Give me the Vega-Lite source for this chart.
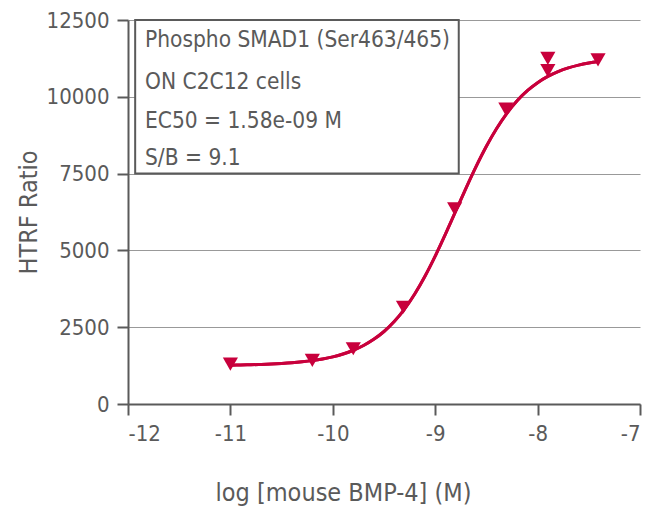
{
  "$schema": "https://vega.github.io/schema/vega-lite/v6.json",
  "width": 512,
  "height": 384,
  "autosize": "none",
  "padding": {"left": 128, "top": 20, "right": 19, "bottom": 104},
  "background": "white",
  "config": {
    "view": {"stroke": null},
    "font": "DejaVu Sans Condensed, Roboto, sans-serif",
    "axis": {
      "labelFont": "DejaVu Sans Condensed, Roboto, sans-serif",
      "titleFont": "DejaVu Sans Condensed, Roboto, sans-serif",
      "labelFontSize": 22,
      "titleFontSize": 25,
      "labelColor": "#5a5a5a",
      "titleColor": "#5a5a5a",
      "titleFontWeight": "normal",
      "domainColor": "#5a5a5a",
      "domainWidth": 2,
      "tickColor": "#5a5a5a",
      "tickWidth": 2,
      "tickSize": 11
    }
  },
  "datasets": {
    "box": [{"x1": -11.93, "x2": -8.77, "y1": 7500, "y2": 12500}],
    "curve": [
      {"x": -11.0, "y": 1264}, {"x": -10.9, "y": 1269}, {"x": -10.8, "y": 1277},
      {"x": -10.7, "y": 1287}, {"x": -10.6, "y": 1300}, {"x": -10.5, "y": 1318},
      {"x": -10.4, "y": 1341}, {"x": -10.3, "y": 1372}, {"x": -10.2, "y": 1412},
      {"x": -10.1, "y": 1465}, {"x": -10.0, "y": 1535}, {"x": -9.9, "y": 1628},
      {"x": -9.8, "y": 1750}, {"x": -9.7, "y": 1905}, {"x": -9.6, "y": 2105},
      {"x": -9.5, "y": 2360}, {"x": -9.4, "y": 2685}, {"x": -9.3, "y": 3090},
      {"x": -9.2, "y": 3581}, {"x": -9.1, "y": 4159}, {"x": -9.0, "y": 4814},
      {"x": -8.9, "y": 5529}, {"x": -8.8, "y": 6275}, {"x": -8.7, "y": 7022},
      {"x": -8.6, "y": 7736}, {"x": -8.5, "y": 8391}, {"x": -8.4, "y": 8969},
      {"x": -8.3, "y": 9462}, {"x": -8.2, "y": 9870}, {"x": -8.1, "y": 10199},
      {"x": -8.0, "y": 10460}, {"x": -7.9, "y": 10664}, {"x": -7.8, "y": 10820},
      {"x": -7.7, "y": 10940}, {"x": -7.6, "y": 11031}, {"x": -7.5, "y": 11099},
      {"x": -7.4, "y": 11150}
    ],
    "points": [
      {"x": -11.0, "y": 1300}, {"x": -10.2, "y": 1420}, {"x": -9.8, "y": 1800},
      {"x": -9.31, "y": 3150}, {"x": -8.81, "y": 6350}, {"x": -8.31, "y": 9600},
      {"x": -7.9, "y": 11250}, {"x": -7.9, "y": 10850}, {"x": -7.41, "y": 11200}
    ],
    "labels": [
      {"x": -11.834, "y": 11621, "t": "Phospho SMAD1 (Ser463/465)"},
      {"x": -11.834, "y": 10254, "t": "ON C2C12 cells"},
      {"x": -11.834, "y": 8984, "t": "EC50 = 1.58e-09 M"},
      {"x": -11.834, "y": 7780, "t": "S/B = 9.1"}
    ]
  },
  "layer": [
    {
      "data": {"name": "curve"},
      "mark": {"type": "line", "color": "#C8003C", "strokeWidth": 3, "interpolate": "monotone"},
      "encoding": {
        "x": {
          "field": "x", "type": "quantitative",
          "scale": {"domain": [-12, -7], "nice": false, "zero": false},
          "axis": {"values": [-12, -11, -10, -9, -8, -7], "labelExpr": "'' + datum.value", "grid": false,
                   "title": "log [mouse BMP-4] (M)", "labelPadding": 8,
                   "titleX": 215, "titleY": 96, "titleBaseline": "alphabetic", "titleAlign": "center"}
        },
        "y": {
          "field": "y", "type": "quantitative",
          "scale": {"domain": [0, 12500], "nice": false},
          "axis": {"values": [0, 2500, 5000, 7500, 10000, 12500], "format": "d",
                   "grid": true, "gridColor": "#999999", "gridWidth": 1.2,
                   "title": "HTRF Ratio", "labelPadding": 8,
                   "titleX": -100, "titleY": 192, "titleAngle": -90, "titleBaseline": "middle", "titleAlign": "center"}
        }
      }
    },
    {
      "data": {"name": "box"},
      "mark": {"type": "rect", "fill": "white", "stroke": "#5a5a5a", "strokeWidth": 2},
      "encoding": {
        "x": {"field": "x1", "type": "quantitative"},
        "x2": {"field": "x2"},
        "y": {"field": "y1", "type": "quantitative"},
        "y2": {"field": "y2"}
      }
    },
    {
      "data": {"name": "curve"},
      "mark": {"type": "line", "color": "#C8003C", "strokeWidth": 3, "interpolate": "monotone"},
      "encoding": {
        "x": {"field": "x", "type": "quantitative"},
        "y": {"field": "y", "type": "quantitative"}
      }
    },
    {
      "data": {"name": "points"},
      "mark": {"type": "point", "shape": "triangle-down", "filled": true, "color": "#C8003C", "opacity": 1, "size": 230},
      "encoding": {
        "x": {"field": "x", "type": "quantitative"},
        "y": {"field": "y", "type": "quantitative"}
      }
    },
    {
      "data": {"name": "labels"},
      "mark": {"type": "text", "align": "left", "baseline": "alphabetic", "fontSize": 22.5, "color": "#5a5a5a", "font": "DejaVu Sans Condensed, Roboto, sans-serif"},
      "encoding": {
        "x": {"field": "x", "type": "quantitative"},
        "y": {"field": "y", "type": "quantitative"},
        "text": {"field": "t"}
      }
    }
  ]
}
